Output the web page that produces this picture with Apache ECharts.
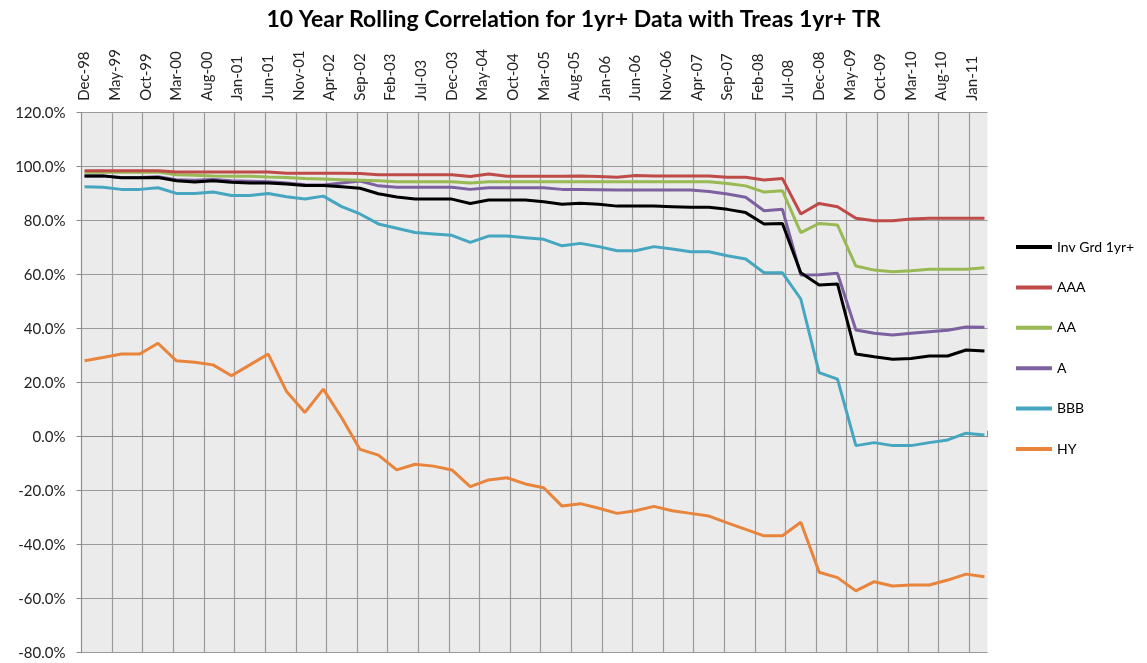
<!DOCTYPE html>
<html>
<head>
<meta charset="utf-8">
<script src="https://cdn.jsdelivr.net/npm/echarts@6/dist/echarts.min.js"></script>
<style>
  html, body { margin: 0; padding: 0; background: #fff; }
  #chart { width: 1147px; height: 663px; }
</style>
</head>
<body>
<div id="chart"></div>
<script>
// monthly category axis, Dec-98 .. Mar-11, data is quarterly (every 3rd month)
const monthAbbr = ['Jan', 'Feb', 'Mar', 'Apr', 'May', 'Jun', 'Jul', 'Aug', 'Sep', 'Oct', 'Nov', 'Dec'];
const startYear = 1998, startMonth = 11, monthCount = 148;
const months = [];
for (let i = 0; i < monthCount; i++) {
  const m = (startMonth + i) % 12;
  const y = startYear + Math.floor((startMonth + i) / 12);
  months.push(monthAbbr[m] + '-' + String(y % 100).padStart(2, '0'));
}
const stepMonths = 3;

const invGrd = [96.6, 96.6, 95.9, 95.9, 96.0, 94.8, 94.3, 94.8, 94.2, 94.0,
  94.0, 93.6, 93.0, 93.0, 92.6, 92.0, 90.0, 88.8, 88.0, 88.0,
  88.0, 86.4, 87.7, 87.7, 87.7, 87.0, 86.1, 86.5, 86.1, 85.4,
  85.4, 85.4, 85.2, 85.0, 85.0, 84.2, 83.0, 78.8, 79.0, 60.7,
  56.2, 56.6, 30.6, 29.6, 28.7, 29.0, 29.9, 29.9, 32.1, 31.7];
const aaa = [98.5, 98.5, 98.5, 98.5, 98.5, 98.0, 98.0, 98.0, 98.0, 98.0,
  98.0, 97.6, 97.6, 97.6, 97.6, 97.5, 97.0, 97.0, 97.0, 97.0,
  97.0, 96.4, 97.3, 96.5, 96.5, 96.5, 96.5, 96.6, 96.4, 96.1,
  96.7, 96.6, 96.6, 96.6, 96.6, 96.1, 96.1, 95.1, 95.6, 82.5,
  86.4, 85.2, 80.9, 80.0, 80.0, 80.6, 80.9, 80.9, 80.9, 80.9];
const aa = [97.9, 97.9, 97.9, 97.9, 98.0, 97.0, 96.8, 96.6, 96.5, 96.5,
  96.2, 96.0, 95.6, 95.4, 95.2, 95.0, 94.8, 94.4, 94.4, 94.4,
  94.4, 94.0, 94.4, 94.4, 94.4, 94.4, 94.4, 94.4, 94.4, 94.4,
  94.4, 94.4, 94.4, 94.4, 94.4, 93.8, 92.9, 90.6, 91.1, 75.6,
  79.0, 78.4, 63.2, 61.7, 61.1, 61.5, 62.0, 62.0, 62.0, 62.6];
const a = [96.6, 96.6, 96.0, 96.0, 96.3, 95.2, 95.0, 95.3, 94.8, 94.6,
  94.4, 94.0, 93.3, 93.2, 94.0, 94.7, 92.9, 92.4, 92.4, 92.4,
  92.4, 91.6, 92.2, 92.2, 92.2, 92.2, 91.6, 91.6, 91.5, 91.4,
  91.4, 91.4, 91.4, 91.4, 90.8, 89.9, 88.7, 83.7, 84.2, 59.9,
  60.0, 60.5, 39.5, 38.3, 37.7, 38.3, 38.9, 39.4, 40.6, 40.5];
const bbb = [92.6, 92.4, 91.6, 91.6, 92.2, 90.1, 90.1, 90.6, 89.3, 89.3,
  90.1, 88.9, 88.0, 89.1, 85.2, 82.5, 78.8, 77.2, 75.6, 75.1,
  74.6, 72.0, 74.3, 74.3, 73.7, 73.1, 70.7, 71.6, 70.4, 68.9,
  68.9, 70.4, 69.5, 68.5, 68.5, 67.0, 65.8, 60.7, 60.7, 51.0,
  23.7, 21.3, -3.3, -2.2, -3.3, -3.3, -2.2, -1.2, 1.3, 0.6];
const hy = [28.1, 29.3, 30.6, 30.6, 34.6, 28.1, 27.6, 26.6, 22.6, 26.6,
  30.6, 16.7, 9.0, 17.6, 7.0, -4.7, -6.8, -12.3, -10.2, -10.9,
  -12.3, -18.5, -16.0, -15.2, -17.5, -18.9, -25.7, -24.8, -26.5, -28.4,
  -27.4, -25.8, -27.4, -28.4, -29.4, -31.9, -34.3, -36.7, -36.7, -31.7,
  -50.2, -52.2, -57.1, -53.7, -55.3, -54.9, -54.9, -53.1, -50.9, -51.9];

const seriesNames = ['Inv Grd 1yr+', 'AAA', 'AA', 'A', 'BBB', 'HY'];
const seriesValues = [invGrd, aaa, aa, a, bbb, hy];
const seriesColors = ['#000000', '#BE4B48', '#98B954', '#7D60A0', '#46A6C0', '#E8843C'];

const yTicks = { min: -80, max: 120, step: 20 };

const chart = echarts.init(document.getElementById('chart'));

const series = seriesNames.map((name, i) => ({
  name,
  type: 'line',
  symbol: 'none',
  data: seriesValues[i].map((v, q) => [months[q * stepMonths], v]),
  lineStyle: { color: seriesColors[i], width: 3 },
  itemStyle: { color: seriesColors[i] },
  z: 10 - i
}));

const every5 = idx => idx % 5 === 0;

chart.setOption({
  animation: false,
  textStyle: { fontFamily: 'Lato, "Open Sans", sans-serif' },
  title: {
    text: '10 Year Rolling Correlation for 1yr+ Data with Treas 1yr+ TR',
    left: 'center',
    top: 3,
    textStyle: { fontSize: 23, fontWeight: 'bold', color: '#000' }
  },
  legend: {
    orient: 'vertical',
    left: 1016,
    top: 240,
    padding: 0,
    itemWidth: 36,
    itemHeight: 4,
    itemGap: 26.4,
    icon: 'rect',
    textStyle: { fontSize: 14, color: '#000' },
    data: seriesNames
  },
  grid: { left: 81.5, right: 159.5, top: 112.7, bottom: 10.3 },
  xAxis: {
    type: 'category',
    position: 'top',
    data: months,
    boundaryGap: true,
    axisLine: { show: true, lineStyle: { color: '#8c8c8c' } },
    axisTick: { show: true, interval: every5, length: 6, lineStyle: { color: '#8c8c8c' } },
    axisLabel: { interval: 4, rotate: 90, fontSize: 15, color: '#222', margin: 12 },
    splitLine: { show: true, interval: every5, showMaxLine: false, lineStyle: { color: '#9a9a9a', width: 1.2 } }
  },
  yAxis: {
    type: 'value',
    min: yTicks.min,
    max: yTicks.max,
    interval: yTicks.step,
    axisLine: { show: true, lineStyle: { color: '#8c8c8c' } },
    axisTick: { show: true, length: 5, lineStyle: { color: '#8c8c8c' } },
    axisLabel: { fontSize: 15, color: '#222', margin: 16, formatter: v => v.toFixed(1) + '%' },
    splitLine: { show: true, lineStyle: { color: '#9a9a9a', width: 1.2 } }
  },
  series
});

// light grey plot background
const rect = chart.getModel().getComponent('grid').coordinateSystem.getRect();
chart.setOption({
  graphic: [{
    type: 'rect',
    shape: { x: rect.x, y: rect.y, width: rect.width, height: rect.height },
    style: { fill: '#ebebeb' },
    z: -10,
    silent: true
  }]
});
</script>
</body>
</html>
